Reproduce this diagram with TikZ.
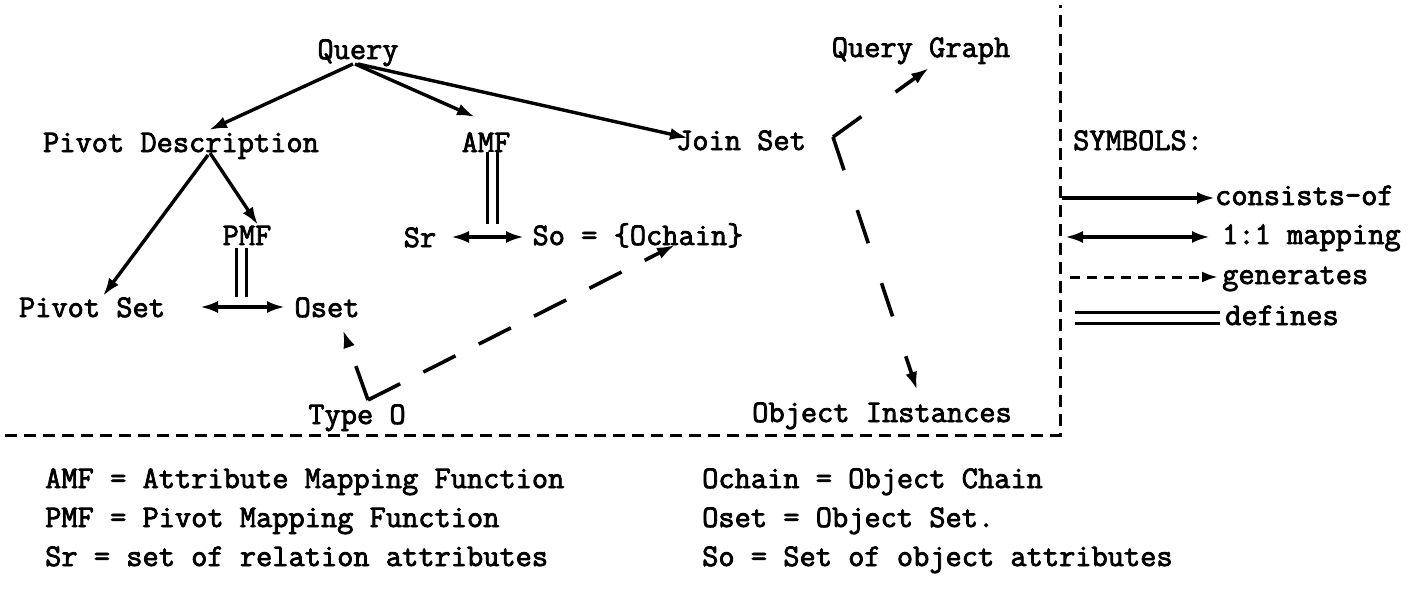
\documentclass[tikz,border=0pt]{standalone}
\usepackage{fontspec}
\setmonofont[FakeBold=2.5]{Latin Modern Mono}
\usetikzlibrary{arrows.meta,calc}
\begin{document}
\begin{tikzpicture}[x=1pt,y=-1pt,
  lbl/.style={font=\ttfamily\fontsize{31.5}{36}\selectfont, inner sep=0pt, text height=20pt, text depth=6pt},
  cons/.style={line width=3.4pt, -{Latex[length=18pt,width=12pt]}},
  map/.style={line width=3.4pt, {Latex[length=18pt,width=12pt]}-{Latex[length=18pt,width=12pt]}},
  gen/.style={line width=3.6pt, dash pattern=on 36pt off 26pt, -{Latex[length=18pt,width=12pt]}},
  genj/.style={gen, dash pattern=on 35pt off 42pt},
  legdash/.style={line width=3pt, dash pattern=on 10pt off 7pt, -{Latex[length=16pt,width=11pt]}},
  defn/.style={double, line width=3.2pt, double distance=7.5pt},
  border/.style={line width=3pt, dash pattern=on 12pt off 7pt}]
\useasboundingbox (0,0) rectangle (1415,591);

% main nodes
\node[lbl] (q) at (358,52) {Query};
\node[lbl] (pd) at (181,145) {Pivot Description};
\node[lbl] (amf) at (486,145) {AMF};
\node[lbl] (js) at (741,143) {Join Set};
\node[lbl] (qg) at (921,50) {Query Graph};
\node[lbl] (pmf) at (247,238) {PMF};
\node[lbl] (sr) at (420,240) {Sr};
\node[lbl] (so) at (638,238) {So = \{Ochain\}};
\node[lbl] (ps) at (92,310) {Pivot Set};
\node[lbl] (oset) at (327,310) {Oset};
\node[lbl] (t0) at (357,417) {Type O};
\node[lbl] (oi) at (882,415) {Object Instances};

% consists-of
\draw[cons] ($(q)+(-5,12)$) -- ($(pd)+(28,-15)$);
\draw[cons] ($(q)+(-3,12)$) -- ($(amf)+(-11,-28)$);
\draw[cons] ($(q)+(0,12)$) -- ($(js)+(-53,-5)$);
\draw[cons] ($(pd)+(29,8)$) -- ($(pmf)+(11,-13)$);
\draw[cons] ($(pd)+(27,10)$) -- ($(ps)+(11,-14)$);

% 1:1 mappings
\draw[map] ($(ps)+(108,-3)$) -- ($(oset)+(-42,-3)$);
\draw[map] ($(sr)+(31,-3)$) -- ($(so)+(-114,-1)$);

% defines
\draw[defn] ($(pmf)+(-5.5,10)$) -- ($(pmf)+(-5.5,59)$);
\draw[defn] ($(amf)+(6.5,7)$) -- ($(amf)+(6.5,79)$);

% generates
\coordinate (tv) at ($(t0)+(11,-17)$);
\draw[gen] (tv) -- ($(oset)+(16,20)$);
\draw[gen] (tv) -- ($(so)+(37,7)$);
\coordinate (jv) at ($(js)+(92,-6)$);
\draw[genj] (jv) -- ($(qg)+(8,18)$);
\draw[genj] (jv) -- ($(oi)+(35,-25)$);

% border
\coordinate (bl) at (5,435);
\coordinate (bc) at (1060,435);
\coordinate (bt) at (1060,5);
\draw[border] (bl) -- (bc) -- (bt);

% legend
\node[lbl, anchor=west] (sym) at (1073,143) {SYMBOLS:};
\node[lbl, anchor=west] (lc) at (1215,198) {consists-of};
\coordinate (lc0) at (1062,198);
\draw[cons] (lc0) -- (lc.west);
\node[lbl, anchor=west] (lm) at (1222,237) {1:1 mapping};
\coordinate (lm0) at (1065,237);
\coordinate (lm1) at (1210,237);
\draw[map] (lm0) -- (lm1);
\node[lbl, anchor=west] (lg) at (1222,277) {generates};
\coordinate (lg0) at (1070,277);
\draw[legdash] (lg0) -- ($(lg.west)+(-4,0)$);
\node[lbl, anchor=west] (ld) at (1225,318) {defines};
\coordinate (ld0) at (1075,318);
\draw[defn] (ld0) -- ($(ld.west)+(-5,0)$);

% glossary
\node[lbl, anchor=west] (g1) at (45,481) {AMF = Attribute Mapping Function};
\node[lbl, anchor=west] (g2) at (45,520) {PMF = Pivot Mapping Function};
\node[lbl, anchor=west] (g3) at (45,559) {Sr = set of relation attributes};
\node[lbl, anchor=west] (g4) at (702,481) {Ochain = Object Chain};
\node[lbl, anchor=west] (g5) at (702,520) {Oset = Object Set.};
\node[lbl, anchor=west] (g6) at (702,559) {So = Set of object attributes};
\end{tikzpicture}
\end{document}
